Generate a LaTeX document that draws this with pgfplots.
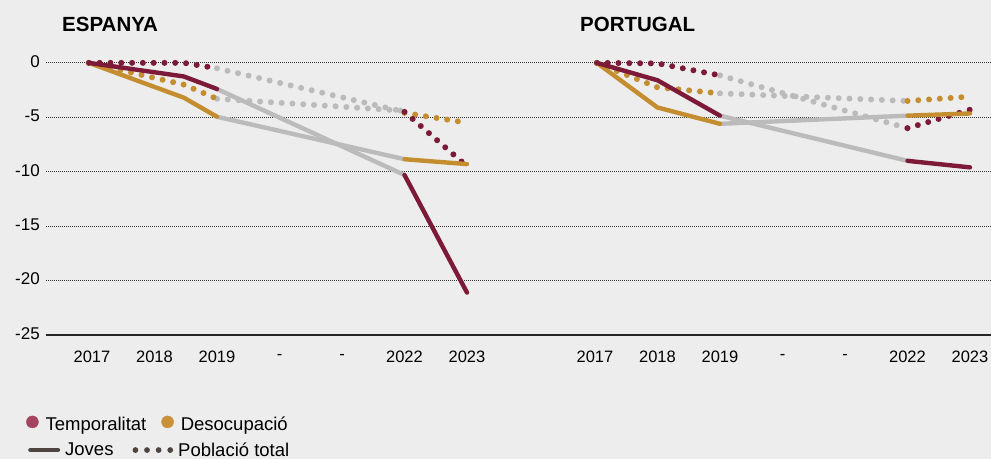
\documentclass[border=0pt]{standalone}
\usepackage{pgfplots}
\pgfplotsset{compat=1.18}
\usepackage{fontspec}
\setmainfont{Liberation Sans}
\definecolor{bg}{HTML}{EDEDED}
\definecolor{tred}{HTML}{7C1A37}
\definecolor{dgold}{HTML}{C48E30}
\definecolor{lgray}{HTML}{BBBBBB}
\definecolor{legred}{HTML}{A4455F}
\definecolor{leggold}{HTML}{C99138}
\definecolor{legdark}{HTML}{4E4540}
\pgfplotsset{
  jove/.style={line width=4.4pt, line cap=round, line join=round, forget plot},
  tot/.style={line width=6pt, line cap=round, dash pattern=on 0pt off 10.8pt, forget plot},
  panel/.style={scale only axis, height=295pt, ymin=-25, ymax=2.1,
    axis line style={draw=none}, major tick length=0pt, ytick=\empty,
    xtick={0,...,6}, xticklabels={2017,2018,2019,-,-,2022,2023},
    xticklabel style={anchor=center, inner sep=0pt, yshift=-22pt, font=\fontsize{16.5}{19}\selectfont},
    clip=false, anchor=south west},
  legcircred/.style={legend image code/.code={\fill[legred] (6pt,3pt) circle (6pt);}},
  legcircgold/.style={legend image code/.code={\fill[leggold] (6pt,3pt) circle (6pt);}},
  legjove/.style={legend image code/.code={\draw[legdark, line width=4.6pt, line cap=round] (2.3pt,0pt) -- (29.7pt,0pt);}},
  legtot/.style={legend image code/.code={\draw[legdark, line width=5.8pt, line cap=round, dash pattern=on 0pt off 11.6pt] (2.9pt,0pt) -- (37.8pt,0pt);}},
}
\begin{document}
\begin{tikzpicture}
\useasboundingbox (0pt,0pt) rectangle (991pt,-459pt);
\fill[bg] (0pt,0pt) rectangle (991pt,-459pt);
% grid layer
\begin{axis}[at={(46pt,-335pt)}, anchor=south west, scale only axis,
  width=945pt, height=295pt, xmin=0, xmax=1, ymin=-25, ymax=2.1,
  xtick=\empty, ytick={-20,-15,-10,-5,0}, yticklabels={-20,-15,-10,-5,0},
  extra y ticks={-25}, extra y tick labels={-25},
  ymajorgrids, grid style={black!80, line width=0.9pt, dash pattern=on 0.9pt off 1.1pt},
  extra y tick style={ymajorgrids=true, major grid style={solid, black!85, line width=1.3pt}},
  axis line style={draw=none}, major tick length=0pt,
  yticklabel style={anchor=east, inner sep=0pt, xshift=-6pt, yshift=1.5pt, font=\fontsize{17}{20}\selectfont}]
\end{axis}
% Espanya
\begin{axis}[panel, at={(46pt,-335pt)}, width=454pt, xmin=-0.736, xmax=6.528,
  legend columns=-1,
  legend style={at={(axis description cs:-0.044,-0.302)}, anchor=west, draw=none, fill=none,
    inner sep=0pt, font=\fontsize{18.5}{21}\selectfont, cells={anchor=west}, nodes={inner sep=0pt},
    /tikz/every odd column/.append style={column sep=7pt},
    /tikz/every even column/.append style={column sep=15pt}}]
\addplot[jove, lgray] coordinates {(2,-2.4) (5,-10.3)};
\addplot[jove, lgray] coordinates {(2,-4.95) (5,-8.85)};
\addplot[tot, lgray] coordinates {(2,-0.5) (5,-4.5)};
\addplot[tot, lgray] coordinates {(2,-3.3) (5,-4.4)};
\addplot[tot, dgold] coordinates {(-0.05,0) (1.47,-2.0) (2,-3.3)};
\addplot[tot, dgold] coordinates {(5,-4.6) (6,-5.5)};
\addplot[tot, tred] coordinates {(-0.05,0) (1.47,0) (2,-0.5)};
\addplot[tot, tred] coordinates {(5,-4.5) (6,-9.5)};
\addplot[jove, dgold] coordinates {(-0.05,0) (1.47,-3.2) (2,-4.95)};
\addplot[jove, dgold] coordinates {(5,-8.85) (6,-9.3)};
\addplot[jove, tred] coordinates {(-0.05,0) (1.47,-1.25) (2,-2.4)};
\addplot[jove, tred] coordinates {(5,-10.3) (6,-21.1)};
\addlegendimage{legcircred}
\addlegendentry{Temporalitat}
\addlegendimage{legcircgold}
\addlegendentry{Desocupació}
\end{axis}
% Portugal
\begin{axis}[panel, at={(500pt,-335pt)}, width=491pt, xmin=-1.52, xmax=6.336,
  legend columns=-1,
  legend style={at={(axis description cs:-0.9613,-0.390)}, anchor=west, draw=none, fill=none,
    inner sep=0pt, font=\fontsize{18.5}{21}\selectfont, cells={anchor=west}, nodes={inner sep=0pt},
    /tikz/every odd column/.append style={column sep=5pt},
    /tikz/every even column/.append style={column sep=19pt}}]
\addplot[jove, lgray] coordinates {(2,-4.85) (5,-9.0)};
\addplot[jove, lgray] coordinates {(2,-5.6) (5,-4.85)};
\addplot[tot, lgray] coordinates {(2,-1.15) (5,-6.0)};
\addplot[tot, lgray] coordinates {(2,-2.8) (5,-3.5)};
\addplot[tot, dgold] coordinates {(0.03,0) (1,-2.25) (2,-2.8)};
\addplot[tot, dgold] coordinates {(5,-3.5) (6,-3.1)};
\addplot[tot, tred] coordinates {(0.03,0) (1,-0.05) (2,-1.15)};
\addplot[tot, tred] coordinates {(5,-6.0) (6,-4.3)};
\addplot[jove, dgold] coordinates {(0.03,0) (1,-4.1) (2,-5.6)};
\addplot[jove, dgold] coordinates {(5,-4.85) (6,-4.65)};
\addplot[jove, tred] coordinates {(0.03,0) (1,-1.6) (2,-4.85)};
\addplot[jove, tred] coordinates {(5,-9.0) (6,-9.6)};
\addlegendimage{legjove}
\addlegendentry{Joves}
\addlegendimage{legtot}
\addlegendentry{Població total}
\end{axis}
\node[anchor=base west, inner sep=0pt, font=\bfseries\fontsize{20.5}{24}\selectfont] at (62pt,-31.5pt) {ESPANYA};
\node[anchor=base west, inner sep=0pt, font=\bfseries\fontsize{20.5}{24}\selectfont] at (580pt,-31.5pt) {PORTUGAL};
\end{tikzpicture}
\end{document}
